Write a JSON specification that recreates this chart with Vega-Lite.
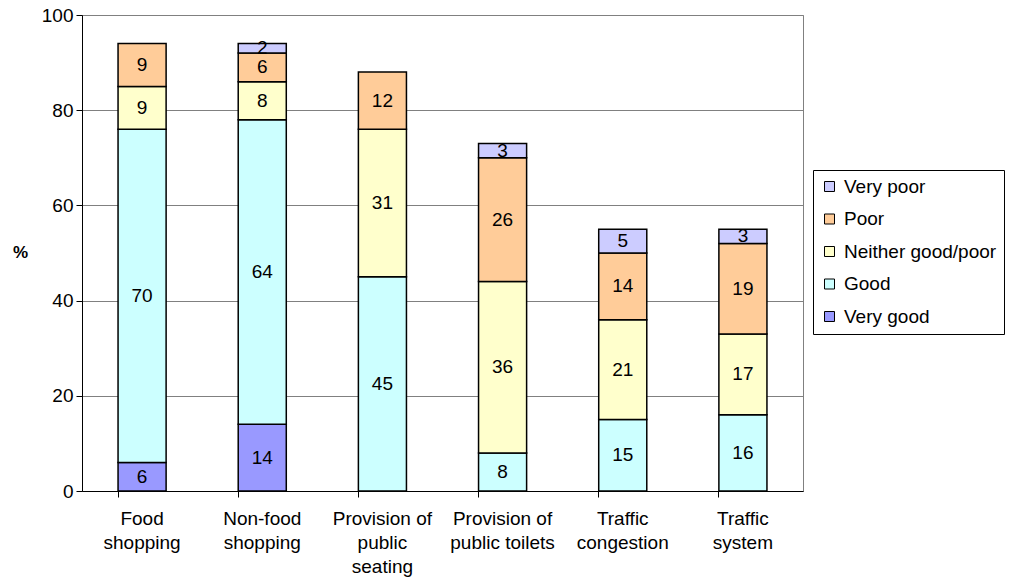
{
  "$schema": "https://vega.github.io/schema/vega-lite/v6.json",
  "width": 721,
  "height": 476,
  "autosize": {"type": "none"},
  "padding": {"left": 82, "top": 15, "right": 206, "bottom": 95},
  "background": "white",
  "config": {
    "font": "Liberation Sans",
    "view": {"stroke": "#808080", "strokeWidth": 1},
    "axis": {
      "labelFont": "Liberation Sans",
      "labelFontSize": 19,
      "labelColor": "black",
      "domainColor": "black",
      "tickColor": "black",
      "titleFont": "Liberation Sans"
    }
  },
  "data": {
    "values": [
      {"area": "Food shopping", "rating": "Very good", "rank": 1, "pct": 6},
      {"area": "Food shopping", "rating": "Good", "rank": 2, "pct": 70},
      {"area": "Food shopping", "rating": "Neither good/poor", "rank": 3, "pct": 9},
      {"area": "Food shopping", "rating": "Poor", "rank": 4, "pct": 9},
      {"area": "Non-food shopping", "rating": "Very good", "rank": 1, "pct": 14},
      {"area": "Non-food shopping", "rating": "Good", "rank": 2, "pct": 64},
      {"area": "Non-food shopping", "rating": "Neither good/poor", "rank": 3, "pct": 8},
      {"area": "Non-food shopping", "rating": "Poor", "rank": 4, "pct": 6},
      {"area": "Non-food shopping", "rating": "Very poor", "rank": 5, "pct": 2},
      {"area": "Provision of public seating", "rating": "Good", "rank": 2, "pct": 45},
      {"area": "Provision of public seating", "rating": "Neither good/poor", "rank": 3, "pct": 31},
      {"area": "Provision of public seating", "rating": "Poor", "rank": 4, "pct": 12},
      {"area": "Provision of public toilets", "rating": "Good", "rank": 2, "pct": 8},
      {"area": "Provision of public toilets", "rating": "Neither good/poor", "rank": 3, "pct": 36},
      {"area": "Provision of public toilets", "rating": "Poor", "rank": 4, "pct": 26},
      {"area": "Provision of public toilets", "rating": "Very poor", "rank": 5, "pct": 3},
      {"area": "Traffic congestion", "rating": "Good", "rank": 2, "pct": 15},
      {"area": "Traffic congestion", "rating": "Neither good/poor", "rank": 3, "pct": 21},
      {"area": "Traffic congestion", "rating": "Poor", "rank": 4, "pct": 14},
      {"area": "Traffic congestion", "rating": "Very poor", "rank": 5, "pct": 5},
      {"area": "Traffic system", "rating": "Good", "rank": 2, "pct": 16},
      {"area": "Traffic system", "rating": "Neither good/poor", "rank": 3, "pct": 17},
      {"area": "Traffic system", "rating": "Poor", "rank": 4, "pct": 19},
      {"area": "Traffic system", "rating": "Very poor", "rank": 5, "pct": 3}
    ]
  },
  "transform": [
    {"stack": "pct", "groupby": ["area"], "sort": [{"field": "rank", "order": "ascending"}], "as": ["y0", "y1"]},
    {"calculate": "(datum.y0 + datum.y1) / 2", "as": "ymid"}
  ],
  "encoding": {
    "x": {
      "field": "area",
      "type": "nominal",
      "sort": null,
      "scale": {"paddingInner": 0.6, "paddingOuter": 0.3},
      "axis": {
        "title": null,
        "labelAngle": 0,
        "bandPosition": 0,
        "tickSize": 6,
        "labelPadding": 12,
        "labelLineHeight": 24,
        "labelBaseline": "top",
        "labelExpr": "datum.label == 'Food shopping' ? ['Food', 'shopping'] : datum.label == 'Non-food shopping' ? ['Non-food', 'shopping'] : datum.label == 'Provision of public seating' ? ['Provision of', 'public', 'seating'] : datum.label == 'Provision of public toilets' ? ['Provision of', 'public toilets'] : datum.label == 'Traffic congestion' ? ['Traffic', 'congestion'] : ['Traffic', 'system']"
      }
    }
  },
  "layer": [
    {
      "mark": {"type": "bar", "stroke": "black", "strokeWidth": 1.5},
      "encoding": {
        "y": {
          "field": "y0",
          "type": "quantitative",
          "scale": {"domain": [0, 100]},
          "axis": {
            "title": "%",
            "titleAngle": 0,
            "titleFontWeight": "bold",
            "titleFontSize": 17,
            "titleX": -62,
            "titleY": 246,
            "values": [0, 20, 40, 60, 80, 100],
            "tickSize": 6,
            "labelPadding": 3,
            "grid": true,
            "gridColor": "#808080",
            "gridWidth": 1
          }
        },
        "y2": {"field": "y1"},
        "color": {
          "field": "rating",
          "type": "nominal",
          "scale": {
            "domain": ["Very poor", "Poor", "Neither good/poor", "Good", "Very good"],
            "range": ["#CCCCFF", "#FFCC99", "#FFFFCC", "#CCFFFF", "#9999FF"]
          },
          "legend": {
            "title": null,
            "orient": "none",
            "legendX": 731,
            "legendY": 155,
            "strokeColor": "black",
            "fillColor": "white",
            "padding": 7,
            "symbolType": "square",
            "symbolSize": 100,
            "symbolStrokeColor": "black",
            "symbolStrokeWidth": 1,
            "labelFontSize": 19,
            "labelFont": "Liberation Sans",
            "labelColor": "black",
            "labelOffset": 5,
            "rowPadding": 12.5,
            "labelLimit": 300
          }
        }
      }
    },
    {
      "mark": {"type": "text", "font": "Liberation Sans", "fontSize": 19, "color": "black", "baseline": "middle", "align": "center"},
      "encoding": {
        "y": {"field": "ymid", "type": "quantitative"},
        "text": {"field": "pct", "type": "quantitative"}
      }
    }
  ]
}
